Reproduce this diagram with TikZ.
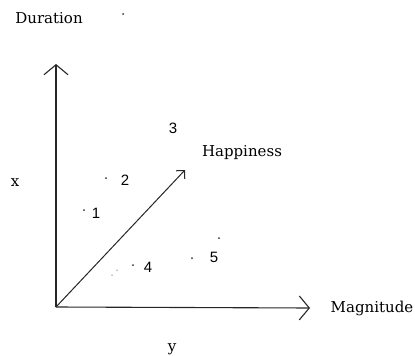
\documentclass[tikz,border=0pt]{standalone}
\usepackage{fontspec}
\setmainfont{DejaVu Serif}
\newfontfamily\digitfont{Liberation Sans}
\usetikzlibrary{arrows.meta,positioning}

\begin{document}
\begin{tikzpicture}[x=1pt, y=-1pt,
  font=\fontsize{15}{17}\selectfont,
  axis/.style={-{Straight Barb[length=10pt,width=24pt]}, line width=1.1pt, black!85},
  vec/.style={-{Straight Barb[length=6pt,width=12pt]}, line width=1pt, black!85},
  dot/.style={circle, fill=black!80, inner sep=0pt, minimum size=2pt},
  faint/.style={circle, fill=black!45, inner sep=0pt, minimum size=1.5pt},
  num/.style={inner sep=0pt, font=\fontsize{15}{17}\digitfont},
  lbl/.style={inner sep=0pt}
]
\useasboundingbox (0,0) rectangle (415,356);

% axes
\coordinate (o) at (56,307);
\coordinate (top) at (56,64);
\coordinate (right) at (310,308);
\coordinate (tip) at (185,170);
\draw[axis] (o) -- (top);
\draw[axis] (o) -- (right);
\draw[vec] (o) -- (tip);

% labels
\node[lbl] (dur) at (49,18) {Duration};
\node[lbl] (mag) at (372,308) {Magnitude};
\node[lbl] (hap) at (242,153) {Happiness};
\node[lbl] (lx) at (15,183) {x};
\node[lbl] (ly) at (172,349) {y};

% points
\node[dot] (d0) at (123,14) {};
\node[dot] (d1) at (84,210) {};
\node[dot] (d2) at (106,178) {};
\node[dot] (d4) at (133,265) {};
\node[dot] (d5) at (192,258) {};
\node[dot] (d6) at (219,238) {};
\node[faint] (f1) at (112,275) {};
\node[faint] (f2) at (117,270) {};

\node[num] (n1) at (96,213) {1};
\node[num] (n2) at (125,180) {2};
\node[num] (n3) at (173,128) {3};
\node[num] (n4) at (148,267) {4};
\node[num] (n5) at (214,257) {5};
\end{tikzpicture}
\end{document}
